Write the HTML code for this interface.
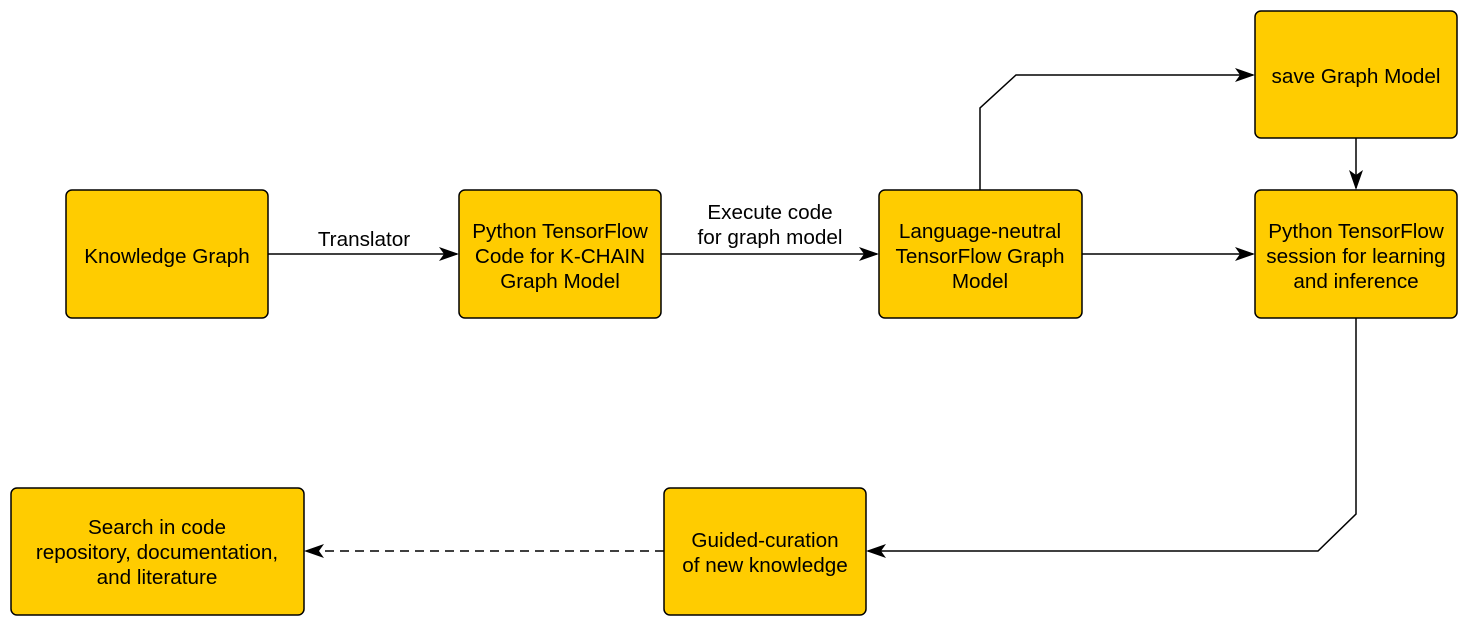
<!DOCTYPE html>
<html><head><style>
html,body{margin:0;padding:0;background:#fff;}
svg{display:block;}
text{font-family:"Liberation Sans",sans-serif;font-size:20.7px;fill:#000;}
</style></head><body>
<svg width="1469" height="628" viewBox="0 0 1469 628">
<defs><marker id="a" markerWidth="20" markerHeight="14" refX="18" refY="7" orient="auto" markerUnits="userSpaceOnUse"><path d="M0,0 L20,7 L0,14 L5,7 Z" fill="#000"/></marker></defs>
<g fill="#ffcc00" stroke="#000" stroke-width="1.5">
<rect x="66" y="190" width="202" height="128" rx="6"/>
<rect x="459" y="190" width="202" height="128" rx="6"/>
<rect x="879" y="190" width="203" height="128" rx="6"/>
<rect x="1255" y="11" width="202" height="127" rx="6"/>
<rect x="1255" y="190" width="202" height="128" rx="6"/>
<rect x="664" y="488" width="202" height="127" rx="6"/>
<rect x="11" y="488" width="293" height="127" rx="6"/>
</g>
<g stroke="#000" stroke-width="1.5" fill="none">
<path d="M268,254 H457" marker-end="url(#a)"/>
<path d="M661,254 H877" marker-end="url(#a)"/>
<path d="M1082,254 H1253" marker-end="url(#a)"/>
<path d="M980,190 V108 L1016,75 H1253" marker-end="url(#a)"/>
<path d="M1356,138 V188" marker-end="url(#a)"/>
<path d="M1356,318 V514 L1318,551 H868" marker-end="url(#a)"/>
<path d="M664,551 H306" stroke-dasharray="9,6" marker-end="url(#a)"/>
</g>
<g text-anchor="middle">
<text x="167" y="263">Knowledge Graph</text>
<text x="364" y="246">Translator</text>
<text x="560" y="238">Python TensorFlow</text>
<text x="560" y="263">Code for K-CHAIN</text>
<text x="560" y="288">Graph Model</text>
<text x="770" y="219">Execute code</text>
<text x="770" y="244">for graph model</text>
<text x="980" y="238">Language-neutral</text>
<text x="980" y="263">TensorFlow Graph</text>
<text x="980" y="288">Model</text>
<text x="1356" y="83">save Graph Model</text>
<text x="1356" y="238">Python TensorFlow</text>
<text x="1356" y="263">session for learning</text>
<text x="1356" y="288">and inference</text>
<text x="765" y="547">Guided-curation</text>
<text x="765" y="572">of new knowledge</text>
<text x="157" y="534">Search in code</text>
<text x="157" y="559">repository, documentation,</text>
<text x="157" y="584">and literature</text>
</g>
</svg>
</body></html>
